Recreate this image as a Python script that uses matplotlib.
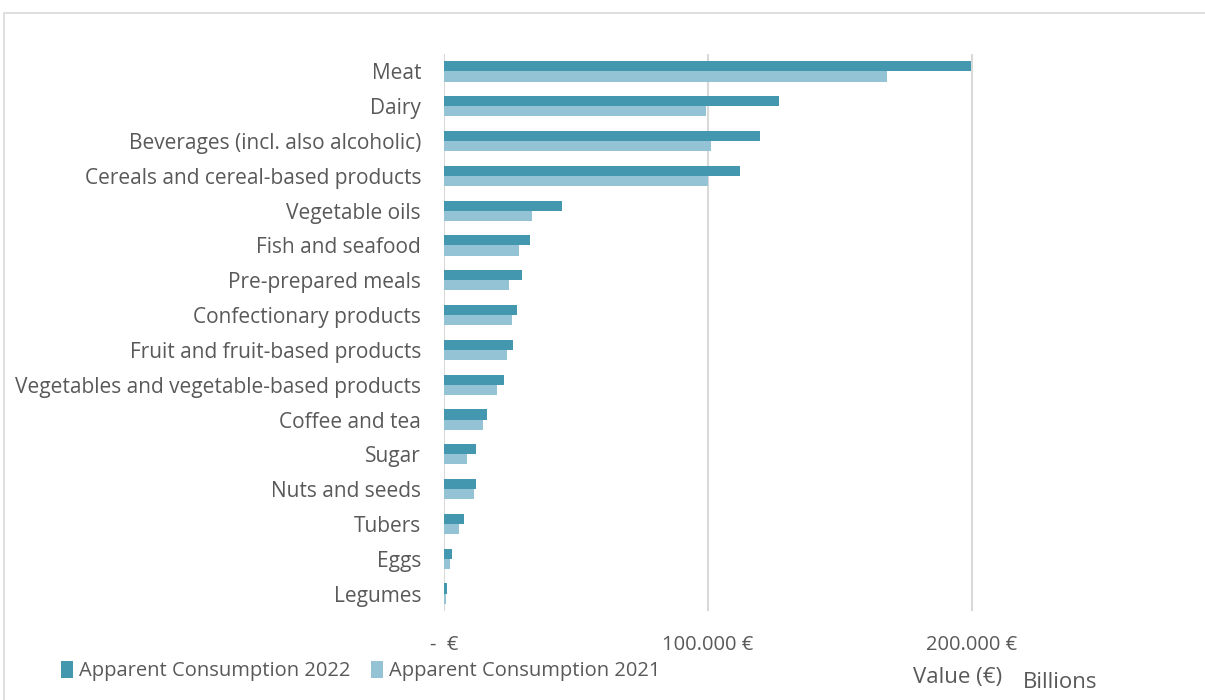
import matplotlib.pyplot as plt
import matplotlib.patches as mpatches
import numpy as np

plt.rcParams['font.family'] = ['Open Sans', 'DejaVu Sans']

categories = ['Meat', 'Dairy', 'Beverages (incl. also alcoholic)',
              'Cereals and cereal-based products', 'Vegetable oils',
              'Fish and seafood', 'Pre-prepared meals', 'Confectionary products',
              'Fruit and fruit-based products',
              'Vegetables and vegetable-based products', 'Coffee and tea',
              'Sugar', 'Nuts and seeds', 'Tubers', 'Eggs', 'Legumes']
# apparent consumption, million euro
cons_2022 = [199500, 127000, 119700, 112100, 44700, 32600, 29500, 27500,
             26200, 22800, 16300, 12100, 12000, 7600, 3000, 1000]
cons_2021 = [167800, 99200, 101100, 100100, 33300, 28300, 24700, 25800,
             23800, 20000, 14800, 8700, 11300, 5700, 2300, 700]
xticks = [0, 100000, 200000]
xtick_labels = ['-  €', '100.000 €', '200.000 €']

c22 = '#4397ae'
c21 = '#93c3d4'
txt = '#595959'

fig = plt.figure(figsize=(12.05, 7), dpi=100)
ax = fig.add_axes([444 / 1205, 1 - 611 / 700, 660 / 1205, 557 / 700])

y = np.arange(len(categories))
h = 0.29
ax.barh(y - h / 2, cons_2022, height=h, color=c22, label='Apparent Consumption 2022', zorder=3)
ax.barh(y + h / 2, cons_2021, height=h, color=c21, label='Apparent Consumption 2021', zorder=3)

ax.set_xlim(0, 250000)
ax.set_ylim(len(categories) - 0.5, -0.5)
ax.set_yticks(y)
ax.set_yticklabels(categories, fontsize=15, color=txt)
ax.set_xticks(xticks)
ax.set_xticklabels(xtick_labels, fontsize=14.5, color=txt)
ax.tick_params(length=0)
ax.tick_params(axis='y', pad=16.5)
ax.tick_params(axis='x', pad=17)
ax.grid(axis='x', color='#d9d9d9', linewidth=1.5, zorder=0)
for s in ax.spines.values():
    s.set_visible(False)

# chart border
fig.patches.append(mpatches.Rectangle((4 / 1205, -0.1), 1.1, 1 - 13 / 700 + 0.1,
                                      transform=fig.transFigure, fill=False,
                                      edgecolor='#d9d9d9', linewidth=1.2))

fig.legend(loc='center left', bbox_to_anchor=(61 / 1205, 1 - 671 / 700), ncol=2,
           frameon=False, fontsize=14.5, handlelength=0.6, handleheight=0.9,
           handletextpad=0.3, columnspacing=1.0, labelcolor=txt,
           borderaxespad=0, borderpad=0)

fig.text(958 / 1205, 1 - 677 / 700, 'Value (€)', fontsize=16, color=txt,
         ha='center', va='center')
fig.text(1060 / 1205, 1 - 682 / 700, 'Billions', fontsize=16, color=txt,
         ha='center', va='center')

fig.savefig('out.png', dpi=100)
